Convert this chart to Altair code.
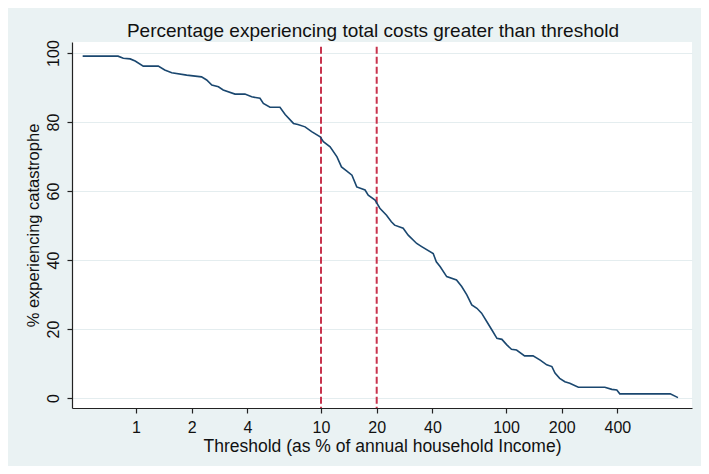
import altair as alt
import pandas as pd

# Threshold (as % of annual household income) and % experiencing catastrophe
thresholds = [0.515, 0.80, 0.854, 0.93, 0.99, 1.095, 1.32, 1.43, 1.56, 1.88,
              2.26, 2.41, 2.57, 2.79, 2.96, 3.43, 3.88, 4.22, 4.68, 4.88, 5.3, 6.0,
              6.4, 7.1, 7.5, 8.2, 8.9, 9.9, 10.3, 11.2, 12.2, 12.9,
              13.8, 14.7, 15.6, 17.3, 18.0, 19.6, 20.8, 22.6, 24.0, 25.0,
              27.8, 29.6, 32.9, 35.0, 40.4, 42.0, 44.0, 47.8, 54.0, 57.6,
              61.4, 65.3, 69.6, 73.8, 78.8, 83.9, 89.3, 95.0, 101, 107,
              114, 126, 140, 153, 166, 177, 184, 195, 208, 221,
              246, 342, 373, 397, 412, 772, 850]
pct = [99.1, 99.1, 98.5, 98.3, 97.7, 96.2, 96.2, 95.1, 94.3, 93.6,
       93.1, 92.2, 90.7, 90.2, 89.3, 88.1, 88.1, 87.3, 86.9, 85.4, 84.3, 84.3,
       82.2, 79.6, 79.3, 78.6, 77.2, 75.7, 74.3, 72.8, 69.9, 67.0,
       65.8, 64.6, 61.2, 60.3, 58.8, 57.4, 55.0, 53.0, 51.1, 50.1,
       49.2, 47.2, 44.8, 43.9, 41.9, 39.5, 38.1, 35.2, 34.2, 32.3,
       29.9, 27.0, 26.0, 24.6, 22.1, 19.7, 17.3, 17.0, 15.4, 14.1,
       13.9, 12.2, 12.2, 11.0, 9.6, 9.1, 7.2, 5.7, 4.7, 4.3,
       3.1, 3.1, 2.5, 2.3, 1.2, 1.2, 0.1]

ref_lines = [10, 20]
x_ticks = [1, 2, 4, 10, 20, 40, 100, 200, 400]
y_ticks = [0, 20, 40, 60, 80, 100]

FONT = "Liberation Sans, Arial, Helvetica, sans-serif"

df = pd.DataFrame({"threshold": thresholds, "pct": pct})
ref_df = pd.DataFrame({"x": ref_lines, "top": [101.8] * len(ref_lines),
                       "bot": [-2.9] * len(ref_lines)})

xscale = alt.Scale(type="log", domain=[0.451, 1012], nice=False)
yscale = alt.Scale(domain=[-2.9, 103.2], nice=False, zero=False)

x_axis = alt.Axis(values=x_ticks, format="d", grid=False,
                  title="Threshold (as % of annual household Income)",
                  titleFontSize=17.5, labelPadding=6, titlePadding=2)
y_axis = alt.Axis(values=y_ticks, grid=True, gridColor="#E4EDEF", gridWidth=1,
                  title="% experiencing catastrophe", titleFontSize=16.5,
                  labelAngle=270, labelAlign="center", labelBaseline="bottom",
                  labelPadding=6, titlePadding=4)

rules = alt.Chart(ref_df).mark_rule(
    color="#C8344E", strokeWidth=2, strokeDash=[7, 3]
).encode(
    x=alt.X("x:Q", scale=xscale, axis=x_axis),
    y=alt.Y("top:Q", scale=yscale, axis=y_axis),
    y2="bot:Q",
)

line = alt.Chart(df).mark_line(
    interpolate="linear", color="#1A476F", strokeWidth=1.6
).encode(
    x=alt.X("threshold:Q", scale=xscale, axis=x_axis),
    y=alt.Y("pct:Q", scale=yscale, axis=y_axis),
)

chart = alt.layer(rules, line).properties(
    width=620,
    height=366,
    autosize=alt.AutoSizeParams(type="none"),
    padding={"left": 64, "top": 34, "right": 9, "bottom": 58},
    background="#EAF2F3",
    title=alt.TitleParams(
        "Percentage experiencing total costs greater than threshold",
        fontSize=19, fontWeight="normal", font=FONT, color="#111111",
        anchor="middle", dx=-9, dy=22, offset=6, baseline="alphabetic",
    ),
).configure_view(
    fill="white", stroke=None
).configure_axis(
    domainColor="#222222", tickColor="#222222", domainWidth=1.2, tickWidth=1.2,
    tickSize=5, labelFont=FONT, titleFont=FONT, labelFontSize=16,
    titleFontSize=16, titleFontWeight="normal", labelColor="#111111",
    titleColor="#111111",
)

chart.save("out.html", embed_options={"renderer": "svg", "actions": False})
